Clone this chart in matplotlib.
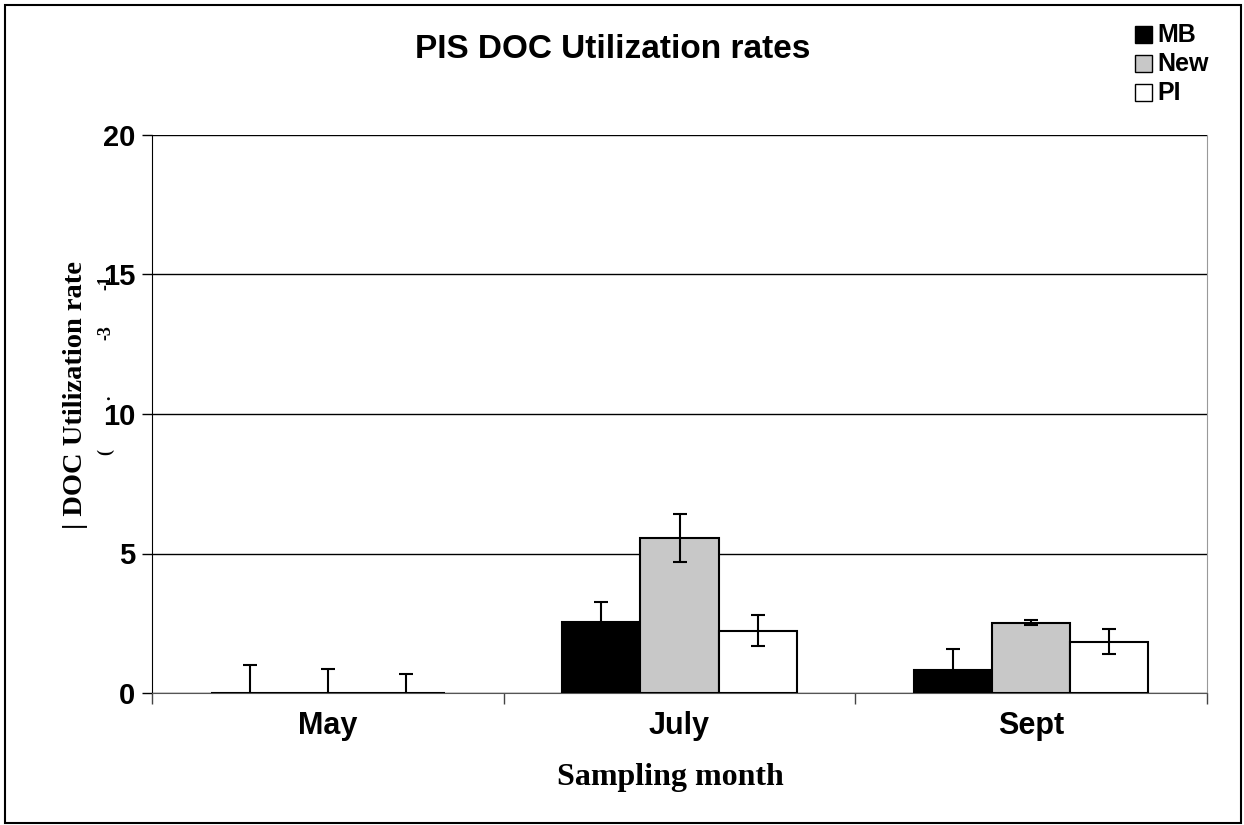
import numpy as np
import matplotlib.pyplot as plt
from matplotlib.patches import Rectangle

months = ["May", "July", "Sept"]
series = ["MB", "New", "PI"]
mb = [0.0, 2.55, 0.84]
new = [0.0, 5.55, 2.52]
pi = [0.0, 2.24, 1.83]
mb_err = [1.0, 0.71, 0.73]
new_err = [0.86, 0.86, 0.1]
pi_err = [0.67, 0.55, 0.45]
colors = ["black", "#c8c8c8", "white"]
yticks = [0, 5, 10, 15, 20]

W, H = 1244, 825
fig = plt.figure(figsize=(W / 100, H / 100), dpi=100)
fig.patches.append(Rectangle((5 / W, 2 / H), 1236 / W, 818 / H, transform=fig.transFigure,
                             fill=False, edgecolor="black", linewidth=1.5))

ax = fig.add_axes([152 / W, 1 - 693 / H, (1207 - 152) / W, (693 - 135) / H])

x = np.arange(len(months))
bw = 0.222
vals = [mb, new, pi]
errs = [mb_err, new_err, pi_err]
for i in range(3):
    pos = x + (i - 1) * bw
    ax.bar(pos, vals[i], bw, color=colors[i], edgecolor="black", linewidth=1.5, zorder=3)
    ax.errorbar(pos, vals[i], yerr=errs[i], fmt="none", ecolor="black",
                elinewidth=1.5, capsize=5, capthick=1.5, zorder=4)

ax.set_xlim(-0.5, 2.5)
ax.set_ylim(0, 20)
ax.set_yticks(yticks)
ax.set_yticklabels([str(t) for t in yticks], fontsize=21, fontweight="bold", family="Liberation Sans")
ax.tick_params(axis="y", length=7, width=1, pad=5)
ax.set_xticks(x)
ax.set_xticklabels(months, fontsize=22, fontweight="bold", family="Liberation Sans")
ax.set_xticks([-0.5, 0.5, 1.5, 2.5], minor=True)
ax.tick_params(axis="x", which="major", length=0, pad=13)
ax.tick_params(axis="x", which="minor", length=8, width=1, color="#444444")
ax.yaxis.grid(True, color="black", linewidth=1, zorder=0)
ax.set_axisbelow(True)
ax.spines["top"].set_visible(False)
ax.spines["right"].set_color("#999999")
ax.spines["bottom"].set_color("#555555")
ax.spines["left"].set_color("black")

fig.text(613 / W, 1 - 50 / H, "PIS DOC Utilization rates", ha="center", va="center",
         fontsize=24, fontweight="bold", family="Liberation Sans")
fig.text(670 / W, 1 - 777 / H, "Sampling month", ha="center", va="center",
         fontsize=23, fontweight="bold", family="Liberation Serif")
fig.text(76 / W, 1 - 395 / H, "| DOC Utilization rate", ha="center", va="center",
         rotation=90, fontsize=20.5, fontweight="bold", family="Liberation Serif")
# bits of the hidden unit line
for yy, s in [(452, "("), (398, "."), (333, "-3"), (283, "-1")]:
    fig.text(106 / W, 1 - yy / H, s, ha="center", va="center", rotation=90,
             fontsize=13, fontweight="bold", family="Liberation Serif")

# legend
for i in range(3):
    yc = 35 + 29 * i
    fig.patches.append(Rectangle((1135 / W, 1 - (yc + 8) / H), 17 / W, 17 / H,
                                 transform=fig.transFigure, facecolor=colors[i],
                                 edgecolor="black", linewidth=1))
    fig.text(1157 / W, 1 - yc / H, series[i], ha="left", va="center",
             fontsize=18, fontweight="bold", family="Liberation Sans")

fig.savefig("out.png", dpi=100)
